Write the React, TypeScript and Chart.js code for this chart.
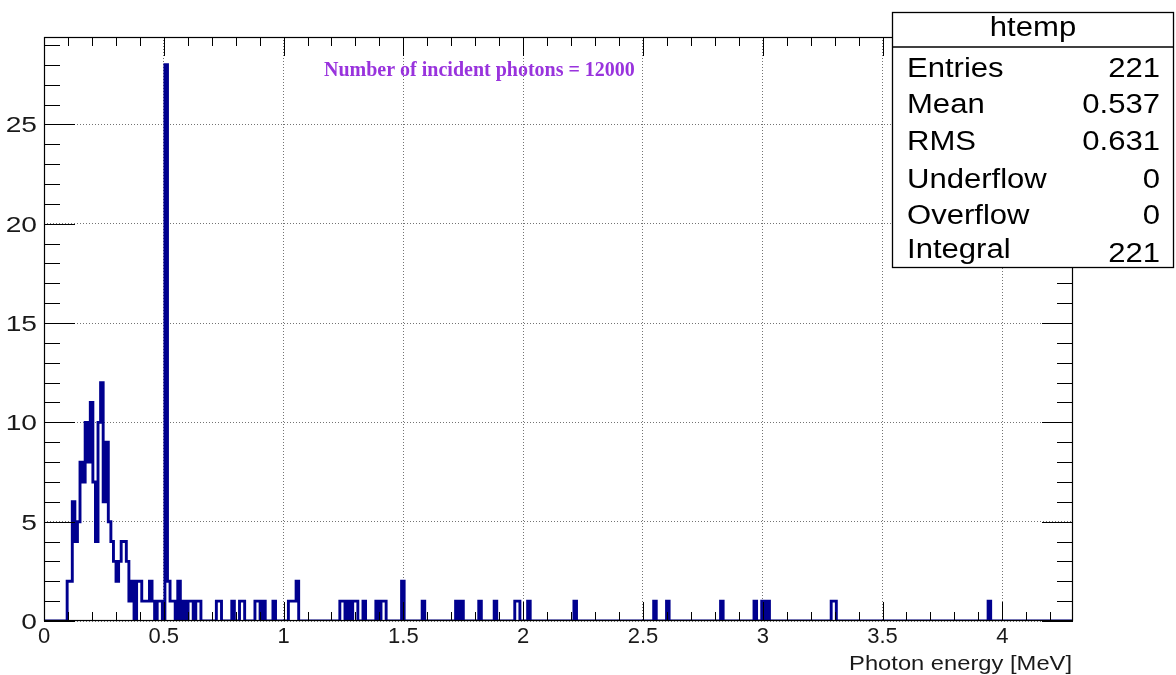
import { useEffect, useRef } from 'react';
import { Chart, registerables } from 'chart.js';

Chart.register(...registerables);

// ---- axis ranges / binning ----
const X_MIN = 0;
const X_MAX = 4.295;
const N_BINS = 400;
const Y_MAX = 29.4;

// ---- histogram: non-empty bins (bin index) and their counts ----
const binIndex = [
  9, 10, 11, 12, 13, 14, 15, 16, 17, 18, 19, 20, 21, 22, 23, 24, 25, 26, 27, 28,
  29, 30, 31, 32, 33, 34, 36, 37, 38, 39, 40, 41, 42, 44, 45,
  47,
  48, 49, 50, 52, 54, 56, 57, 59, 60,
  67, 68, 73, 76, 77, 82, 83, 85, 89,
  95, 96, 97, 98,
  115, 116, 118, 120, 121, 124, 129, 131, 132,
  139, 147, 160, 162, 169, 175, 183, 184, 188,
  206, 237, 242, 263, 276, 279, 281, 306, 307, 367,
];
const binCount = [
  2, 2, 6, 4, 5, 8, 7, 10, 8, 11, 7, 4, 10, 12, 6, 9, 5, 4, 3, 2,
  3, 4, 4, 3, 1, 2, 2, 2, 1, 1, 1, 2, 1, 1, 1,
  28,
  2, 1, 1, 2, 1, 1, 1, 1, 1,
  1, 1, 1, 1, 1, 1, 1, 1, 1,
  1, 1, 1, 2,
  1, 1, 1, 1, 1, 1, 1, 1, 1,
  2, 1, 1, 1, 1, 1, 1, 1, 1,
  1, 1, 1, 1, 1, 1, 1, 1, 1, 1,
];

// ---- ticks ----
const xTickValues = [0, 0.5, 1, 1.5, 2, 2.5, 3, 3.5, 4];
const xTickLabels = ['0', '0.5', '1', '1.5', '2', '2.5', '3', '3.5', '4'];
const yTickValues = [0, 5, 10, 15, 20, 25];
const yTickLabels = ['0', '5', '10', '15', '20', '25'];
const X_MINOR_STEP = 0.1;
const Y_MINOR_STEP = 1;

// ---- texts ----
const xAxisTitle = 'Photon energy [MeV]';
const annotationText = 'Number of incident photons = 12000';
const statsTitle = 'htemp';
const statsLabels = ['Entries', 'Mean', 'RMS', 'Underflow', 'Overflow', 'Integral'];
const statsValues = ['221', '0.537', '0.631', '0', '0', '221'];

const SANS = '"Liberation Sans", Arial, Helvetica, sans-serif';
const SERIF = '"Liberation Serif", "Times New Roman", serif';
const HIST_COLOR = '#00008f';

function stretchText(
  ctx: CanvasRenderingContext2D,
  text: string,
  x: number,
  y: number,
  align: CanvasTextAlign,
  sx: number,
  baseline: CanvasTextBaseline = 'alphabetic',
) {
  ctx.save();
  ctx.translate(x, y);
  ctx.scale(sx, 1);
  ctx.textAlign = align;
  ctx.textBaseline = baseline;
  ctx.fillText(text, 0, 0);
  ctx.restore();
}

const rootPlugin = {
  id: 'rootDecor',
  afterDatasetsDraw(chart: any) {
    const { ctx, chartArea: a, scales } = chart;
    const xs = scales.x;
    const ys = scales.y;
    ctx.save();
    ctx.strokeStyle = '#000';
    ctx.lineWidth = 1;
    ctx.beginPath();
    // x ticks (bottom and top, pointing inside)
    const nx = Math.floor((X_MAX - X_MIN) / X_MINOR_STEP + 1e-6);
    for (let k = 0; k <= nx; k++) {
      const v = X_MIN + k * X_MINOR_STEP;
      const px = Math.round(xs.getPixelForValue(v)) + 0.5;
      const L = k % 5 === 0 ? 19 : 9;
      ctx.moveTo(px, a.bottom);
      ctx.lineTo(px, a.bottom - L);
      ctx.moveTo(px, a.top);
      ctx.lineTo(px, a.top + L);
    }
    // y ticks (left and right, pointing inside)
    const ny = Math.floor(Y_MAX / Y_MINOR_STEP + 1e-6);
    for (let k = 0; k <= ny; k++) {
      const v = k * Y_MINOR_STEP;
      const py = Math.round(ys.getPixelForValue(v)) + 0.5;
      const L = k % 5 === 0 ? 31 : 16;
      ctx.moveTo(a.left, py);
      ctx.lineTo(a.left + L, py);
      ctx.moveTo(a.right, py);
      ctx.lineTo(a.right - L, py);
    }
    ctx.stroke();
    // frame
    ctx.lineWidth = 1.2;
    ctx.strokeRect(a.left + 0.5, a.top + 0.5, a.right - a.left - 1, a.bottom - a.top - 1);

    // y tick labels (placed on the y scale)
    ctx.fillStyle = '#1a1a1a';
    ctx.font = `22px ${SANS}`;
    yTickValues.forEach((v, i) => {
      const py = ys.getPixelForValue(v);
      stretchText(ctx, yTickLabels[i], a.left - 7, py + 8, 'right', 1.28);
    });
    ctx.restore();
  },
  afterDraw(chart: any) {
    const { ctx } = chart;
    ctx.save();
    // annotation
    ctx.fillStyle = '#9933dd';
    ctx.font = `bold 20px ${SERIF}`;
    stretchText(ctx, annotationText, 324, 76, 'left', 1);

    // x axis title
    ctx.fillStyle = '#1a1a1a';
    ctx.font = `21px ${SANS}`;
    stretchText(ctx, xAxisTitle, 1072, 670, 'right', 1.13);

    // stats box
    const bx = 892, by = 12, bw = 281, bh = 255;
    ctx.fillStyle = '#ffffff';
    ctx.fillRect(bx, by, bw, bh);
    ctx.strokeStyle = '#000';
    ctx.lineWidth = 1.3;
    ctx.strokeRect(bx + 0.5, by + 0.5, bw, bh);
    ctx.beginPath();
    ctx.moveTo(bx, 47);
    ctx.lineTo(bx + bw, 47);
    ctx.stroke();
    ctx.fillStyle = '#000';
    ctx.font = `27px ${SANS}`;
    stretchText(ctx, statsTitle, 1033, 36, 'center', 1.15);
    const baselines = [77, 113, 150, 188, 224, 258];
    const valueBaselines = [77, 113, 150, 188, 224, 262];
    statsLabels.forEach((lab, i) => {
      stretchText(ctx, lab, 907, baselines[i], 'left', 1.15);
      stretchText(ctx, statsValues[i], 1160, valueBaselines[i], 'right', 1.15);
    });
    ctx.restore();
  },
};

export default function App() {
  const canvasRef = useRef<HTMLCanvasElement | null>(null);

  useEffect(() => {
    document.body.style.margin = '0';
    const canvas = canvasRef.current;
    if (!canvas) return;

    const counts: number[] = new Array(N_BINS).fill(0);
    binIndex.forEach((b, k) => {
      counts[b] = binCount[k];
    });
    const w = (X_MAX - X_MIN) / N_BINS;
    const points = counts.map((c, i) => ({ x: X_MIN + i * w, y: c }));
    points.push({ x: X_MAX, y: 0 });

    const chart = new Chart(canvas, {
      type: 'line',
      data: {
        datasets: [
          {
            data: points,
            stepped: true,
            borderColor: HIST_COLOR,
            borderWidth: 2.9,
            pointRadius: 0,
            fill: false,
            tension: 0,
            borderCapStyle: 'butt',
            borderJoinStyle: 'miter',
          } as any,
        ],
      },
      options: {
        animation: false,
        responsive: true,
        maintainAspectRatio: false,
        parsing: false,
        normalized: true,
        layout: { padding: { left: 0, top: 37, right: 103, bottom: 0 } },
        plugins: {
          legend: { display: false },
          tooltip: { enabled: false },
          title: { display: false },
        },
        scales: {
          x: {
            type: 'linear',
            min: X_MIN,
            max: X_MAX,
            afterBuildTicks: (scale: any) => {
              scale.ticks = xTickValues.map((v) => ({ value: v }));
            },
            afterFit: (scale: any) => {
              scale.height = 54;
            },
            ticks: {
              autoSkip: false,
              maxRotation: 0,
              padding: 5,
              color: '#1a1a1a',
              font: { family: SANS, size: 22, lineHeight: 1 },
              callback: (v: any) => {
                const i = xTickValues.findIndex((t) => Math.abs(t - Number(v)) < 1e-9);
                return i >= 0 ? xTickLabels[i] : '';
              },
            },
            grid: {
              color: 'rgba(0,0,0,0.55)',
              lineWidth: 1,
              drawTicks: false,
            },
            border: { display: false, dash: [1, 2] },
          },
          y: {
            type: 'linear',
            min: 0,
            max: Y_MAX,
            afterBuildTicks: (scale: any) => {
              scale.ticks = yTickValues.map((v) => ({ value: v }));
            },
            afterFit: (scale: any) => {
              scale.width = 44;
            },
            ticks: {
              display: false,
              autoSkip: false,
            },
            grid: {
              color: 'rgba(0,0,0,0.55)',
              lineWidth: 1,
              drawTicks: false,
            },
            border: { display: false, dash: [1, 2] },
          },
        },
      },
      plugins: [rootPlugin],
    });

    return () => {
      chart.destroy();
    };
  }, []);

  return (
    <div style={{ position: 'relative', width: '1176px', height: '675px', background: '#fff' }}>
      <canvas ref={canvasRef} />
    </div>
  );
}
